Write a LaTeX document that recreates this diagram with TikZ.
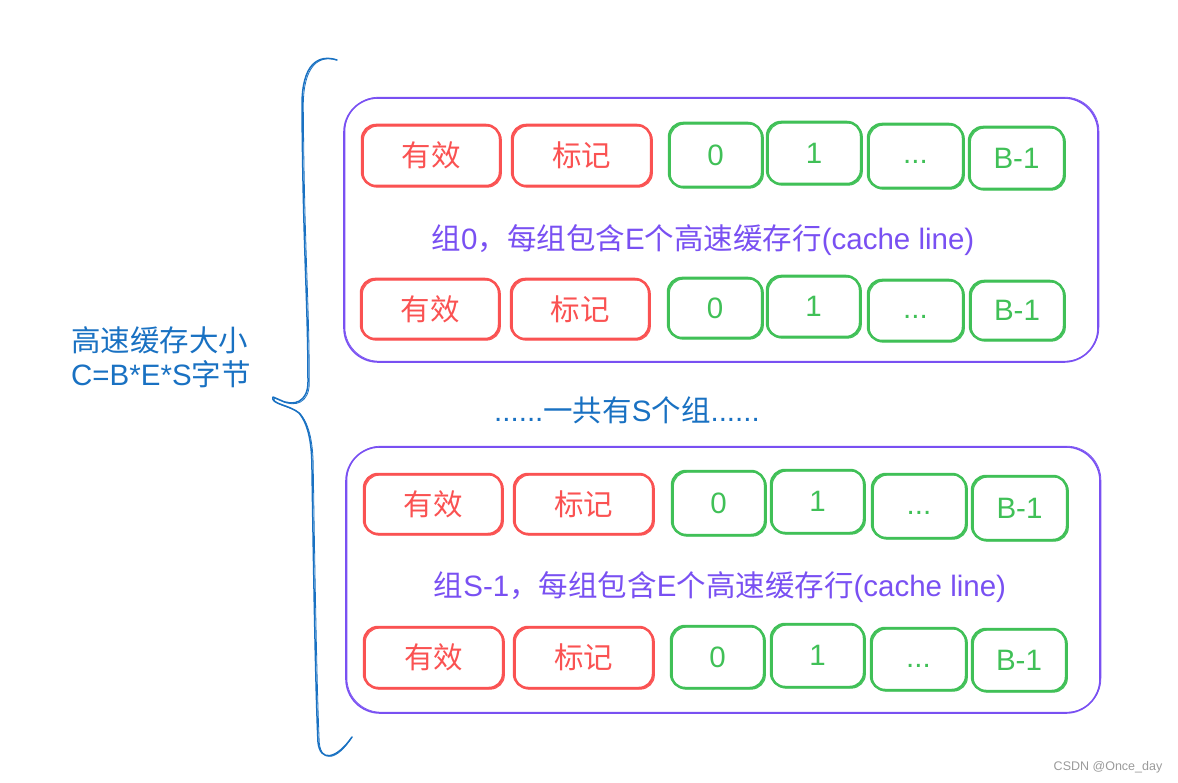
\documentclass[tikz,border=0pt]{standalone}
\usepackage{fontspec}
\setmainfont{Liberation Sans}
\newfontfamily\cjk{Noto Sans CJK SC}
\definecolor{cred}{HTML}{FA5252}
\definecolor{cgreen}{HTML}{40C057}
\definecolor{cpurple}{HTML}{7950F2}
\definecolor{cblue}{HTML}{1971C2}
\definecolor{cgray}{HTML}{9A9A9A}
\newcommand\cellnode[6]{\node[#5, minimum width=#3, minimum height=#4] (#1) at (#2) {#6};}
\newcommand\dotsdown{\raisebox{-8pt}[0pt][0pt]{...}}
\begin{document}
\begin{tikzpicture}[x=1pt,y=-1pt,
  cellbox/.style={draw, rounded corners=14pt, line width=2.5pt, inner sep=0pt,
    font=\fontsize{29.5}{32}\selectfont,
    postaction={draw, line width=1.1pt, transform canvas={shift={(1.3pt,-1.1pt)}}}},
  redcell/.style={cellbox, draw=cred, text=cred},
  greencell/.style={cellbox, draw=cgreen, text=cgreen},
  groupbox/.style={draw=cpurple, rounded corners=34pt, line width=1.6pt, inner sep=0pt,
    postaction={draw, line width=0.7pt, transform canvas={shift={(0.9pt,0.8pt)}}}},
  grouplabel/.style={text=cpurple, font=\fontsize{29.5}{32}\selectfont, inner sep=0pt},
  bluelabel/.style={text=cblue, font=\fontsize{29.5}{34}\selectfont, inner sep=0pt},
  bracestroke/.style={draw=cblue, line width=1.5pt, line cap=round, line join=round},
]
\useasboundingbox (0,0) rectangle (1178,783);

% group boxes
\node[groupbox, minimum width=754, minimum height=264] (g0) at (721,230) {};
\node[groupbox, minimum width=754, minimum height=266] (gS) at (723,580) {};

% group 0, row 1
\cellnode{a1v}{431,155.5}{138}{61}{redcell}{\cjk 有效}
\cellnode{a1t}{581.5,155.5}{139}{61}{redcell}{\cjk 标记}
\cellnode{a1b0}{715.5,155}{93}{64}{greencell}{0}
\cellnode{a1b1}{814,153}{94}{62}{greencell}{1}
\cellnode{a1b2}{915.5,156}{95}{64}{greencell}{\dotsdown}
\cellnode{a1b3}{1016.5,158}{95}{62}{greencell}{B-1}
% group 0, row 2
\cellnode{a2v}{430,309}{138}{60}{redcell}{\cjk 有效}
\cellnode{a2t}{580,309}{138}{60}{redcell}{\cjk 标记}
\cellnode{a2b0}{715,308}{94}{60}{greencell}{0}
\cellnode{a2b1}{813.5,306.5}{93}{61}{greencell}{1}
\cellnode{a2b2}{915.5,310.5}{95}{61}{greencell}{\dotsdown}
\cellnode{a2b3}{1017,310.5}{94}{59}{greencell}{B-1}
% group S-1, row 1
\cellnode{b1v}{433,504}{138}{60}{redcell}{\cjk 有效}
\cellnode{b1t}{583.5,504}{139}{60}{redcell}{\cjk 标记}
\cellnode{b1b0}{718.5,503}{93}{64}{greencell}{0}
\cellnode{b1b1}{817.5,501.5}{93}{63}{greencell}{1}
\cellnode{b1b2}{919,506}{94}{64}{greencell}{\dotsdown}
\cellnode{b1b3}{1019.5,508}{95}{64}{greencell}{B-1}
% group S-1, row 2
\cellnode{b2v}{433.5,657.5}{139}{61}{redcell}{\cjk 有效}
\cellnode{b2t}{583.5,657.5}{139}{61}{redcell}{\cjk 标记}
\cellnode{b2b0}{717.5,657}{93}{62}{greencell}{0}
\cellnode{b2b1}{817.5,655.5}{93}{63}{greencell}{1}
\cellnode{b2b2}{918.5,659}{95}{62}{greencell}{\dotsdown}
\cellnode{b2b3}{1019,660}{94}{62}{greencell}{B-1}

% group labels
\node[grouplabel] (l0) at (703,240) {{\cjk 组}0{\cjk ，每组包含}E{\cjk 个高速缓存行}(cache line)};
\node[grouplabel] (lS) at (720,587) {{\cjk 组}S-1{\cjk ，每组包含}E{\cjk 个高速缓存行}(cache line)};

% middle text
\node[bluelabel] (mid) at (627,410) {......{\cjk 一共有}S{\cjk 个组}......};

% left label
\node[bluelabel, anchor=west, align=left] (size) at (71,357) {{\cjk 高速缓存大小}\\C=B*E*S{\cjk 字节}};

% brace
\coordinate (btop) at (337,60);
\coordinate (bbot) at (352,737);
\foreach \dx/\dy/\lw in {0/0/1.5pt, 1.3/0.8/0.8pt}{
\draw[bracestroke, line width=\lw, shift={(\dx,\dy)}] (btop)
  .. controls (318,54) and (302,64) .. (302,105)
  .. controls (303,250) and (308,300) .. (308,382)
  .. controls (308,402) and (294,407) .. (280,400)
  -- (273,397)
  .. controls (270,404) and (290,405) .. (299,413)
  .. controls (309,425) and (312,445) .. (312,470)
  .. controls (314,600) and (316,700) .. (318,742)
  .. controls (320,762) and (336,760) .. (bbot);
}

% watermark
\node[text=cgray, font=\fontsize{12.5}{14}\selectfont, inner sep=0pt] (wm) at (1108,767) {CSDN @Once\_day};
\end{tikzpicture}
\end{document}
